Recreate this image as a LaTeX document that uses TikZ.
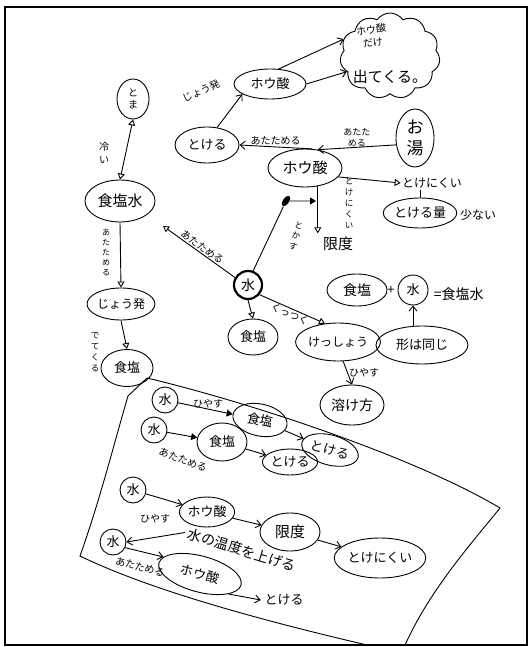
\documentclass[tikz,border=0pt]{standalone}
\usepackage{fontspec}
\setmainfont{Noto Sans CJK JP}
\usetikzlibrary{shapes.geometric,shapes.symbols,arrows.meta}
\begin{document}
\begin{tikzpicture}[x=1pt,y=-1pt, line width=0.9pt,
  ov/.style={draw, ellipse, inner sep=0pt, font=\fontsize{13}{13}\selectfont},
  sz/.style 2 args={minimum width=#1, minimum height=#2},
  lbl/.style={font=\fontsize{10}{11}\selectfont, inner sep=1pt},
  vlbl/.style={font=\fontsize{8.5}{11}\selectfont, align=center, inner sep=0pt},
  ar/.style={-{Straight Barb[length=5pt,width=8pt]}},
  tri/.style={-{Triangle[open,length=6pt,width=7pt]}},
  ftri/.style={-{Triangle[length=6pt,width=7pt]}},
  wat/.style={draw, circle, inner sep=0pt, minimum size=26pt, font=\fontsize{13}{13}\selectfont}]
\useasboundingbox (0,0) rectangle (532,647);
\fill[white] (0,0) rectangle (532,647);
\draw[line width=1.4pt] (5,7) rectangle (527,645);

% ---- cloud
\node[draw, cloud, cloud puffs=11, cloud puff arc=110, aspect=1.2, minimum width=100pt, minimum height=86pt] (cloud) at (390,56) {};
\node[font=\fontsize{10}{13}\selectfont, align=center, rotate=8] (cl1) at (372,36) {ホウ酸\\だけ};
\node[font=\fontsize{15}{15}\selectfont] (cl2) at (390,77) {出てくる。};

% ---- upper centre
\node[ov, sz={72pt}{30pt}] (hou1) at (270,84) {ホウ酸};
\node[ov, sz={64pt}{36pt}] (tok1) at (207,145) {とける};
\node[ov, sz={38pt}{58pt}, align=center, font=\fontsize{17}{21}\selectfont] (oyu) at (415,138) {お\\湯};
\node[ov, sz={74pt}{38pt}, font=\fontsize{15}{15}\selectfont] (hou2) at (305,168) {ホウ酸};
\node[font=\fontsize{12}{12}\selectfont, inner sep=1pt] (tnk) at (432,183) {とけにくい};
\node[ov, sz={66pt}{30pt}] (ryo) at (420,213) {とける量};
\node[font=\fontsize{12}{12}\selectfont] (sukunai) at (478,215) {少ない};
\node[font=\fontsize{15}{15}\selectfont] (gendo) at (338,244) {限度};

\node[fill, ellipse, minimum width=12pt, minimum height=6pt, inner sep=0pt, rotate=55] (blob) at (286,201) {};
\coordinate (blobend) at (316,201);
\node[wat, line width=2.2pt, minimum size=28pt, font=\fontsize{14}{14}\selectfont] (mizu) at (248,285) {水};
\coordinate (atL) at (163,226);
\node[ov, sz={50pt}{36pt}] (shio1) at (253,337) {食塩};
\node[ov, sz={80pt}{38pt}, font=\fontsize{12}{12}\selectfont] (kessho) at (338,342) {けっしょう};
\node[ov, sz={92pt}{38pt}] (katachi) at (422,345) {形は同じ};
\node[ov, sz={64pt}{40pt}, font=\fontsize{14}{14}\selectfont] (tokekata) at (352,405) {溶け方};
\node[ov, sz={60pt}{32pt}, font=\fontsize{14}{14}\selectfont] (shio2) at (357,290) {食塩};
\node[font=\fontsize{13}{13}\selectfont] (plus) at (391,290) {+};
\node[wat, minimum size=30pt] (mizu2) at (413,290) {水};
\node[font=\fontsize{14}{14}\selectfont, anchor=west] (eq) at (430,294) {=食塩水};

% ---- left column
\node[ov, sz={32pt}{40pt}, align=center, font=\fontsize{10}{12.5}\selectfont] (toma) at (133,99) {と\\ま};
\node[ov, sz={70pt}{42pt}, font=\fontsize{15}{15}\selectfont] (shiosui) at (120,201) {食塩水};
\node[ov, sz={62pt}{32pt}, font=\fontsize{12}{12}\selectfont] (jouhatsu) at (121,304) {じょう発};
\node[ov, sz={52pt}{37pt}] (shio3) at (127,368) {食塩};

% ---- edges upper
\draw[ar] (tok1.60) -- (hou1.200);
\node[lbl, rotate=25] (lj) at (201,91) {じょう発};
\draw[ar] (hou1.60) -- (cloud.160);
\draw[ar] (hou1.east) -- (cloud.200);
\draw[ar] (hou2.70) -- node[lbl, above] {あたためる} (tok1.east);
\draw[ar] (oyu.200) -- node[vlbl, above, font=\fontsize{9}{11}\selectfont] {あたた\\める} (hou2.55);
\draw[tri] (hou2.-15) -- (tnk.west);
\draw (tnk.south -| ryo.north) -- (ryo.north);
\draw[tri] (hou2.-55) -- (hou2.-55 |- gendo.north);
\node[vlbl] (ltn) at (349,203) {と\\け\\に\\く\\い};
\draw (mizu.70) -- (blob);
\draw[ftri] (blob) -- (blobend);
\node[vlbl, rotate=-15] (ltk) at (296,236) {と\\か\\す};
\draw[tri] (mizu.150) -- node[lbl, sloped, above] {あたためる} (atL);
\draw[tri] (mizu.south) -- (shio1.north);
\draw[tri] (mizu.-40) -- node[lbl, sloped, below] {くっつく} (kessho.125);
\draw[ar] (katachi.north -| mizu2) -- (mizu2.south);
\draw[ar] (kessho.-75) -- node[lbl, right] {ひやす} (tokekata.north);

% ---- edges left
\draw[{Triangle[open,length=6pt,width=7pt]}-{Triangle[open,length=6pt,width=7pt]}] (shiosui.north) -- (toma.south);
\node[vlbl, font=\fontsize{10}{12.5}\selectfont] (lhi) at (104,153) {冷\\い};
\draw[tri] (shiosui.south) -- (jouhatsu.north);
\node[vlbl, font=\fontsize{8}{10}\selectfont] (lat) at (106,252) {あ\\た\\た\\め\\る};
\draw[tri] (jouhatsu.south) -- (shio3.north);
\node[vlbl] (lde) at (95,352) {で\\て\\く\\る};

% ---- bottom box
\draw (147,378) .. controls (260,405) and (420,460) .. (500,508)
      .. controls (470,545) and (430,590) .. (405,645);
\draw (147,378) -- (128,396) .. controls (115,440) and (100,500) .. (80,556)
      .. controls (150,590) and (260,620) .. (367,645);

\node[wat] (b1m) at (165,400) {水};
\node[ov, sz={55pt}{32pt}, rotate=-12] (b1s) at (260,420) {食塩};
\node[ov, sz={58pt}{30pt}, rotate=-15] (b1t) at (330,450) {とける};
\draw[ftri] (b1m) -- node[lbl, above, pos=0.55] {ひやす} (b1s);
\draw[ar] (b1s) -- (b1t);

\node[wat] (b2m) at (154,430) {水};
\node[ov, sz={50pt}{38pt}] (b2s) at (222,442) {食塩};
\node[ov, sz={48pt}{26pt}] (b2t) at (290,462) {とける};
\draw[ftri] (b2m) -- (b2s);
\node[lbl, rotate=-20] (b2l) at (183,460) {あたためる};
\draw[ar] (b2s) -- (b2t);

\node[wat] (b3m) at (133,490) {水};
\node[ov, sz={55pt}{30pt}] (b3h) at (207,512) {ホウ酸};
\node[ov, sz={60pt}{38pt}, font=\fontsize{15}{15}\selectfont] (b3g) at (290,532) {限度};
\node[ov, sz={78pt}{40pt}] (b3t) at (380,558) {とけにくい};
\draw[ar] (b3m) -- (b3h);
\node[lbl] (b3l) at (155,519) {ひやす};
\draw[ar] (b3h) -- (b3g);
\draw[ar] (b3g) -- (b3t);

\node[wat] (b4m) at (113,542) {水};
\node[ov, sz={85pt}{36pt}, rotate=-15] (b4h) at (200,574) {ホウ酸};
\node[font=\fontsize{14}{14}\selectfont, rotate=-17] (b4x) at (242,550) {水の温度を上げる};
\node[font=\fontsize{13}{13}\selectfont] (b4t) at (284,600) {とける};
\draw[ar] (b4x.west) -- (b4m.east);
\draw[ar] (b4m.-25) -- (b4h.170);
\node[lbl, rotate=-15] (b4l) at (140,567) {あたためる};
\draw[ar] (b4h.-20) -- (b4t.west);
\end{tikzpicture}
\end{document}
